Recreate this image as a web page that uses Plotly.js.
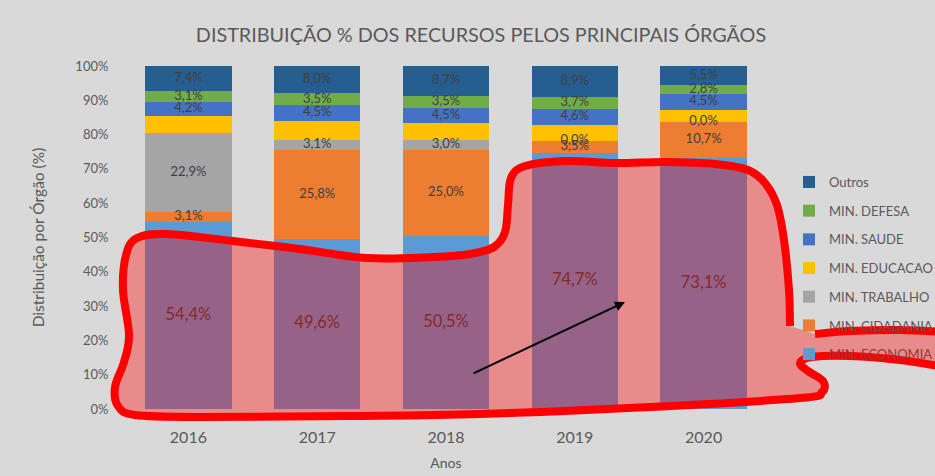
<!DOCTYPE html>
<html><head><meta charset="utf-8">
<script src="https://cdn.plot.ly/plotly-3.0.1.min.js"></script>
<style>html,body{margin:0;padding:0;background:#d9d9d9}#chart{width:935px;height:476px}</style>
</head><body><div id="chart"></div>
<script>
// ---- data ----
const years = ['2016','2017','2018','2019','2020'];
const economia  = [54.4, 49.6, 50.5, 74.7, 73.1];
const cidadania = [3.1, 25.8, 25.0, 3.5, 10.7];
const trabalho  = [22.9, 3.1, 3.0, 0.0, 0.0];
const educacao  = [4.9, 5.5, 4.8, 4.6, 3.4];
const saude     = [4.2, 4.5, 4.5, 4.6, 4.5];
const defesa    = [3.1, 3.5, 3.5, 3.7, 2.8];
const outros    = [7.4, 8.0, 8.7, 8.9, 5.5];
const seriesNames = ['MIN. ECONOMIA','MIN. CIDADANIA','MIN. TRABALHO','MIN. EDUCACAO','MIN. SAUDE','MIN. DEFESA','Outros'];
const seriesValues = [economia, cidadania, trabalho, educacao, saude, defesa, outros];
const showLabels = [true, true, true, false, true, true, true];

// ---- styles ----
const seriesColors = ['#5B9BD5','#ED7D31','#A5A5A5','#FFC000','#4472C4','#70AD47','#255E91'];
const M = {l:124, r:167, t:66, b:67, autoexpand:false};
const W = 935 - M.l - M.r, H = 476 - M.t - M.b;
const fmt = v => v.toFixed(1).replace('.', ',') + '%';

const traces = [];
seriesNames.forEach((name, i) => {
  traces.push({
    type:'bar', x:years, y:seriesValues[i],
    name: i === 0 ? '<span style="color:#953939">' + name + '</span>' : name,
    legendgroup:'g'+i, legendrank: 100 - i,
    marker:{color:seriesColors[i], line:{width:0}}, hoverinfo:'skip'
  });
});

// data labels at segment centres (stack cumulative)
const cum = years.map(() => 0);
const lblX = [], lblY = [], lblT = [], ecoX = [], ecoY = [], ecoT = [];
seriesValues.forEach((vals, i) => {
  vals.forEach((v, j) => {
    const mid = cum[j] + v / 2;
    if (showLabels[i]) {
      if (i === 0) { ecoX.push(years[j]); ecoY.push(mid); ecoT.push(fmt(v)); }
      else { lblX.push(years[j]); lblY.push(mid); lblT.push(fmt(v)); }
    }
    cum[j] += v;
  });
});
traces.push({type:'scatter', mode:'text', x:ecoX, y:ecoY, text:ecoT, showlegend:false, hoverinfo:'skip',
  cliponaxis:false, textfont:{size:16.5, color:'#404040'}});
traces.push({type:'scatter', mode:'text', x:lblX, y:lblY, text:lblT, showlegend:false, hoverinfo:'skip',
  cliponaxis:false, textfont:{size:13, color:'#404040'}});

// ---- hand-drawn highlight overlay (pixel points -> paper coords) ----
const px = p => [(p[0] - M.l) / W, (476 - M.b - p[1]) / H];
function smooth(pts) {
  const q = pts.map(px);
  let d = 'M' + q[0][0] + ',' + q[0][1];
  for (let i = 0; i < q.length - 1; i++) {
    const p0 = q[i-1] || q[i], p1 = q[i], p2 = q[i+1], p3 = q[i+2] || q[i+1];
    const c1 = [p1[0] + (p2[0]-p0[0])/6, p1[1] + (p2[1]-p0[1])/6];
    const c2 = [p2[0] - (p3[0]-p1[0])/6, p2[1] - (p3[1]-p1[1])/6];
    d += ' C' + c1[0] + ',' + c1[1] + ' ' + c2[0] + ',' + c2[1] + ' ' + p2[0] + ',' + p2[1];
  }
  return d;
}
const outline = [[790,326],[789,290],[784,240],[777,205],[765,183],[748,170],[715,164],[665,162],[615,163],
  [565,161],[525,166],[511,178],[508,205],[505,232],[494,247],[470,254],[433,257],[367,258],[300,249],
  [233,241],[167,234],[137,238],[126,255],[123,290],[129,335],[124,362],[115,387],[118,406],[135,415],
  [200,417],[350,416],[480,414],[650,407],[800,398],[822,392],[823,381],[808,371],[800,363],[812,357],
  [850,356],[900,360],[945,367]];
const arm = [[815,334],[850,331],[900,330],[945,332]];
const fillPts = outline.concat([[945,332]], arm.slice().reverse());

const shapes = [
  {type:'path', xref:'paper', yref:'paper', layer:'above', path: smooth(fillPts) + ' Z',
   fillcolor:'rgba(255,0,0,0.36)', line:{width:0}},
  {type:'path', xref:'paper', yref:'paper', layer:'above', path: smooth(outline) + ' ' + smooth(arm),
   fillcolor:'rgba(0,0,0,0)', line:{color:'#FF0000', width:8}}
];
const head = px([625,302]);
const annotations = [{xref:'paper', yref:'paper', x:head[0], y:head[1], ax:472-625, ay:374-302,
  showarrow:true, arrowhead:2, arrowsize:1, arrowwidth:2, arrowcolor:'#000000', text:''}];

const layout = {
  width:935, height:476, margin:M,
  paper_bgcolor:'#D9D9D9', plot_bgcolor:'#D9D9D9',
  font:{family:'Lato, "Open Sans", sans-serif', color:'#595959'},
  barmode:'stack', bargap:0.33,
  title:{text:'DISTRIBUIÇÃO % DOS RECURSOS PELOS PRINCIPAIS ÓRGÃOS', font:{size:19.8, color:'#595959'},
    x:481/935, xanchor:'center', y:1-35/476, yanchor:'middle'},
  xaxis:{type:'category', showgrid:false, zeroline:false, showline:false, ticks:'outside', ticklen:14,
    tickcolor:'rgba(0,0,0,0)', tickfont:{size:16, color:'#595959'},
    title:{text:'Anos', font:{size:14, color:'#595959'}, standoff:12}},
  yaxis:{range:[0,100], dtick:10, ticksuffix:'%', showgrid:false, zeroline:false, showline:false,
    ticks:'outside', ticklen:12, tickcolor:'rgba(0,0,0,0)', tickfont:{size:13, color:'#595959'},
    title:{text:'Distribuição por Órgão (%)', font:{size:15.5, color:'#595959'}, standoff:26}},
  legend:{x:(789-M.l)/W, xanchor:'left', y:(409-167)/H, yanchor:'top', traceorder:'grouped',
    tracegroupgap:8.8, bgcolor:'rgba(0,0,0,0)', font:{size:13, color:'#595959'}},
  shapes:shapes, annotations:annotations
};
Plotly.newPlot('chart', traces, layout, {displayModeBar:false, staticPlot:true});
</script>
</body></html>
